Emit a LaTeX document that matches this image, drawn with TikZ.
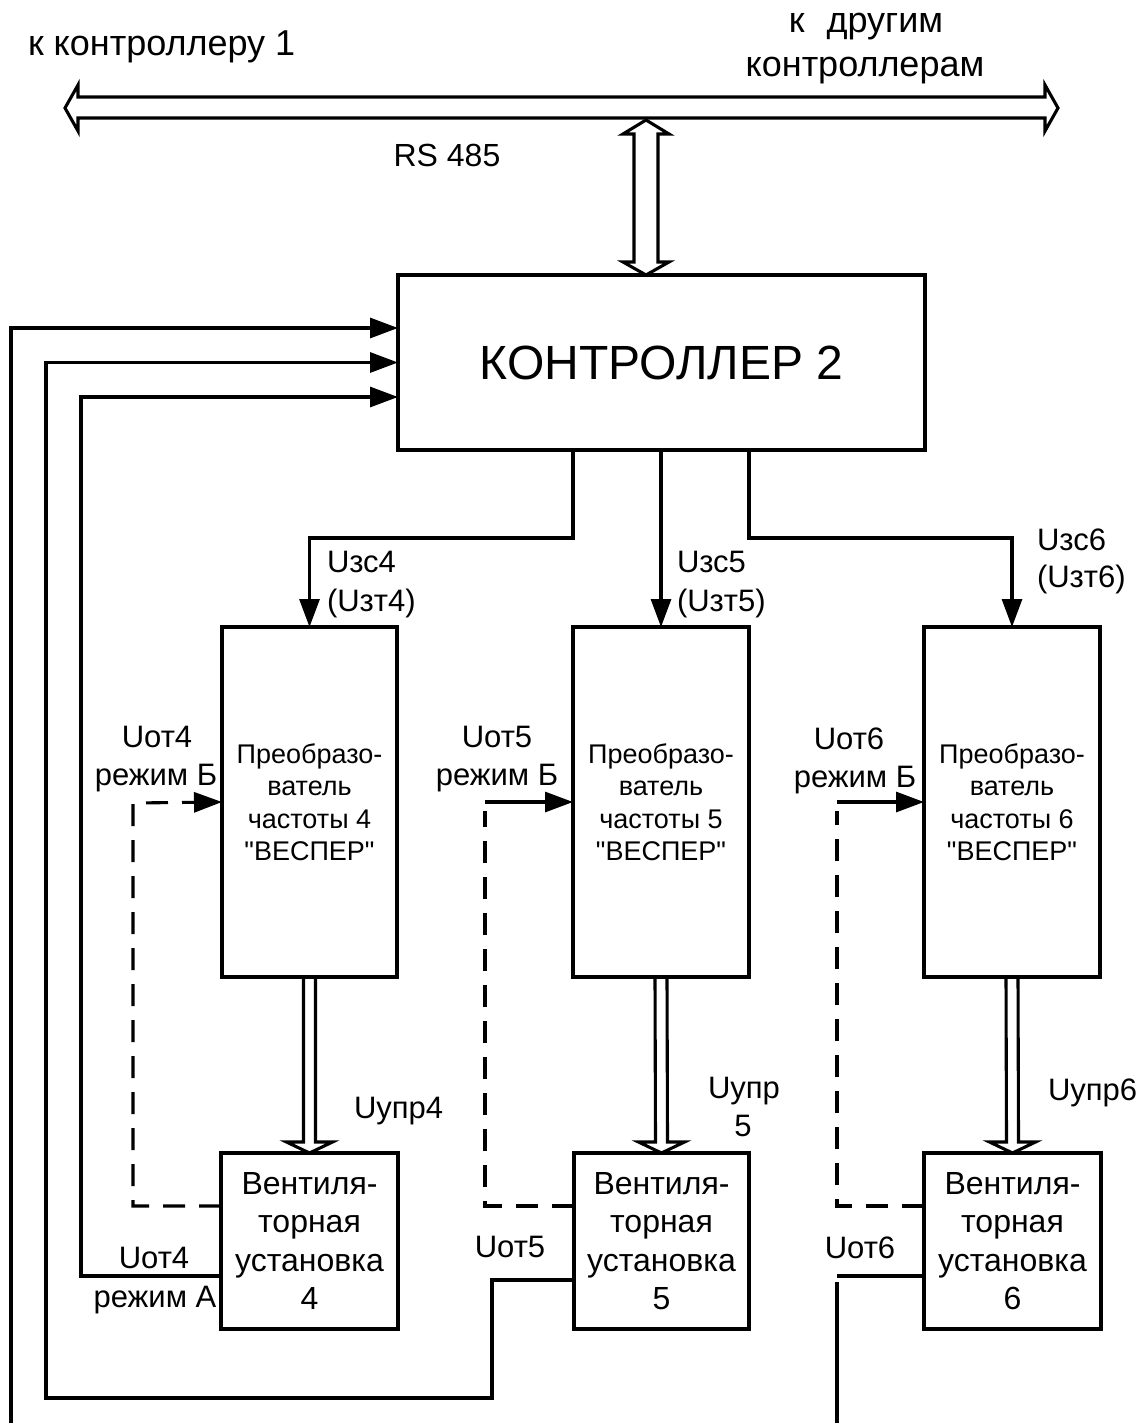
\documentclass[tikz,border=0pt]{standalone}
\usepackage{fontspec}
\setmainfont{Liberation Sans}[Ligatures=TeXOff]
\usetikzlibrary{arrows.meta,calc}
\newcommand{\fsz}[2]{\fontsize{#1}{#2}\selectfont}
\begin{document}
\begin{tikzpicture}[x=1pt,y=-1pt,
  line width=3.1pt,
  box/.style={draw,line width=3.1pt,inner sep=0pt,outer sep=0pt,align=center},
  arr/.style={-{Triangle[length=28pt,width=20pt]}},
  hol/.style={draw,line width=3.1pt,line join=miter},
  lbl/.style={inner sep=0pt,outer sep=0pt,font=\fsz{31}{36}},
  dsh/.style={dash pattern=on 22pt off 14pt},
]
\useasboundingbox[fill=white] (0,0) rectangle (1146,1423);

% blocks
\node[box,minimum width=527pt,minimum height=175pt,font=\fsz{48}{58}] (ctrl) at (661.5,362.5) {КОНТРОЛЛЕР 2};
\node[box,minimum width=175pt,minimum height=350pt,font=\fsz{27}{32.5}] (P4) at (309.5,802) {Преобразо-\\ватель\\частоты 4\\"ВЕСПЕР"};
\node[box,minimum width=176pt,minimum height=350pt,font=\fsz{27}{32.5}] (P5) at (661,802) {Преобразо-\\ватель\\частоты 5\\"ВЕСПЕР"};
\node[box,minimum width=176pt,minimum height=350pt,font=\fsz{27}{32.5}] (P6) at (1012,802) {Преобразо-\\ватель\\частоты 6\\"ВЕСПЕР"};
\node[box,minimum width=177pt,minimum height=176pt,font=\fsz{32}{38.5}] (V4) at (309.5,1241) {Вентиля-\\торная\\установка\\4};
\node[box,minimum width=175pt,minimum height=176pt,font=\fsz{32}{38.5}] (V5) at (661.5,1241) {Вентиля-\\торная\\установка\\5};
\node[box,minimum width=177pt,minimum height=176pt,font=\fsz{32}{38.5}] (V6) at (1012.5,1241) {Вентиля-\\торная\\установка\\6};

% bus
\draw[hol] (65,108) -- (78,85) -- (78,97) -- (1045,97) -- (1045,85) -- (1058,108) -- (1045,131) -- (1045,118) -- (78,118) -- (78,131) -- cycle;
\coordinate (rst) at (646,120);
\coordinate (rsb) at ($(ctrl.north)+(-15.5,0)$);
\draw[hol] (rst) -- ++(-23,14) -- ++(11,0) -- ($(rsb)+(-12,-13)$) -- ++(-11,0) -- (rsb) -- ++(23,-13) -- ++(-11,0) -- ($(rst)+(12,14)$) -- ++(11,0) -- cycle;

% controller outputs
\draw[arr] ($(ctrl.south)+(-88.5,0)$) -- ++(0,88) -| (P4.north);
\draw[arr] (ctrl.south -| P5.north) -- (P5.north);
\draw[arr] ($(ctrl.south)+(87.5,0)$) -- ++(0,88) -| (P6.north);

% power arrows
\foreach \i in {4,5,6} {
  \draw[hol] ($(P\i.south)+(-6,0)$) -- ($(V\i.north)+(-6,-11)$) -- ++(-17,0) -- (V\i.north) -- ++(23,-11) -- ++(-17,0) -- ($(P\i.south)+(6,0)$);
}

% mode B feedback
\draw[dsh,arr] ($(V4.west)+(0,-35)$) -| (133,803) -- (P4.west);
\draw[dsh] ($(V5.west)+(0,-35)$) -| (485,811);
\draw[arr] (485,802) -- (P5.west);
\draw[dsh] ($(V6.west)+(0,-35)$) -| (837,811);
\draw[arr] (837,802) -- (P6.west);

% feedback to controller
\coordinate (f1) at (11,1423);
\draw[arr] (f1) |- ($(ctrl.west)+(0,-34.5)$);
\draw[arr] ($(V5.west)+(0,39)$) -| (492,1398) -| (46,362.5) -- (ctrl.west);
\draw[arr] ($(V4.west)+(0,35)$) -| (81,397) -- ($(ctrl.west)+(0,34.5)$);
\coordinate (f6) at (837,1423);
\draw ($(V6.west)+(0,35)$) -- (837,1276);
\draw (837,1282) -- (f6);

% texts
\node[lbl,anchor=base west,font=\fsz{36}{40}] (t1) at (28,56) {к контроллеру 1};
\node[lbl,anchor=base,font=\fsz{36}{40}] (t2) at (866,33) {к\hspace{22pt}другим};
\node[lbl,anchor=base,font=\fsz{36}{40}] (t3) at (865,77) {контроллерам};
\node[lbl,anchor=base,font=\fsz{32}{36}] (rs) at (447,167) {RS 485};

\node[lbl,anchor=base west] (z4a) at (327,572) {Uзс4};
\node[lbl,anchor=base west] (z4b) at (327,611) {(Uзт4)};
\node[lbl,anchor=base west] (z5a) at (677,572) {Uзс5};
\node[lbl,anchor=base west] (z5b) at (677,611) {(Uзт5)};
\node[lbl,anchor=base west] (z6a) at (1037,550) {Uзс6};
\node[lbl,anchor=base west] (z6b) at (1037,587) {(Uзт6)};

\node[lbl,anchor=base] (o4a) at (157,747) {Uот4};
\node[lbl,anchor=base] (o4b) at (156,785) {режим Б};
\node[lbl,anchor=base] (o5a) at (497,747) {Uот5};
\node[lbl,anchor=base] (o5b) at (497,785) {режим Б};
\node[lbl,anchor=base] (o6a) at (849,749) {Uот6};
\node[lbl,anchor=base] (o6b) at (855,787) {режим Б};

\node[lbl,anchor=base west] (u4) at (354,1118) {Uупр4};
\node[lbl,anchor=base] (u5a) at (744,1098) {Uупр};
\node[lbl,anchor=base] (u5b) at (743,1136) {5};
\node[lbl,anchor=base west] (u6) at (1048,1100) {Uупр6};

\node[lbl,anchor=base] (a4a) at (154,1268) {Uот4};
\node[lbl,anchor=base] (a4b) at (155,1307) {режим А};
\node[lbl,anchor=base] (a5) at (510,1257) {Uот5};
\node[lbl,anchor=base] (a6) at (860,1258) {Uот6};
\end{tikzpicture}
\end{document}
